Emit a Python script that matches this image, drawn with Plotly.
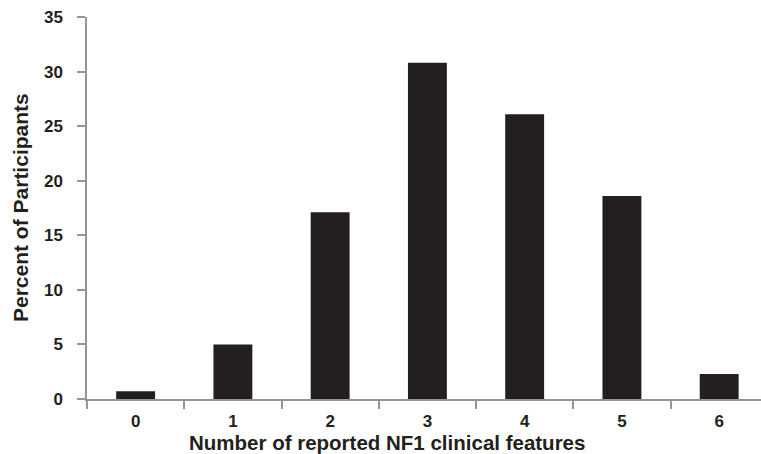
import plotly.graph_objects as go

categories = ["0", "1", "2", "3", "4", "5", "6"]
percent = [0.7, 5.0, 17.1, 30.8, 26.1, 18.6, 2.3]
y_ticks = [0, 5, 10, 15, 20, 25, 30, 35]

ink = "#231f20"
axis_col = "#939598"
fam = "Liberation Sans, Arial, sans-serif"

fig = go.Figure(go.Bar(x=categories, y=percent, width=0.4,
                       marker=dict(color=ink, line=dict(width=0))))

fig.update_layout(
    width=761, height=454,
    margin=dict(l=87, r=0, t=17, b=55),
    paper_bgcolor="white", plot_bgcolor="white",
    showlegend=False,
    font=dict(family=fam, color=ink, size=17, weight="bold"),
    annotations=[
        dict(text="Percent of Participants", xref="paper", yref="paper",
             x=-0.0994, y=0.5, xanchor="center", yanchor="middle",
             textangle=-90, showarrow=False,
             font=dict(family=fam, size=21, color=ink, weight="bold")),
        dict(text="Number of reported NF1 clinical features", xref="paper", yref="paper",
             x=0.445, y=-0.115, xanchor="center", yanchor="middle",
             showarrow=False,
             font=dict(family=fam, size=20.5, color=ink, weight="bold")),
    ],
)
fig.update_xaxes(type="category", range=[-0.5, 6.43], tickson="boundaries",
                 ticks="outside", ticklen=8, tickwidth=1.5, tickcolor=axis_col,
                 showline=True, linecolor=axis_col, linewidth=1.5,
                 showgrid=False, zeroline=False, ticklabelstandoff=6,
                 tickfont=dict(family=fam, size=17, color=ink, weight="bold"))
fig.update_yaxes(range=[0, 35], tickvals=y_ticks,
                 ticks="outside", ticklen=8, tickwidth=1.5, tickcolor=axis_col,
                 showline=True, linecolor=axis_col, linewidth=1.5,
                 showgrid=False, zeroline=False, ticklabelstandoff=11,
                 tickfont=dict(family=fam, size=17, color=ink, weight="bold"))

fig.write_html("out.html", config={"displayModeBar": False},
               post_script="document.body.style.margin='0';")
